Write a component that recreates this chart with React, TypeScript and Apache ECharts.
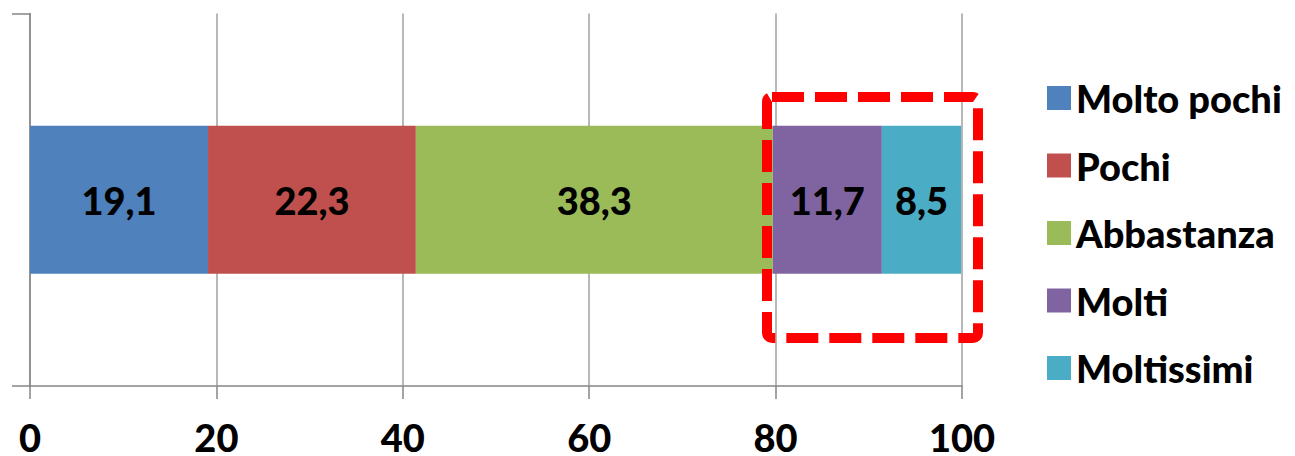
import React, { useEffect, useRef } from "react";
import * as echarts from "echarts";

const categories = [""];
const seriesNames = ["Molto pochi", "Pochi", "Abbastanza", "Molti", "Moltissimi"];
const values = [19.1, 22.3, 38.3, 11.7, 8.5];
const colors = ["#4F81BD", "#C0504D", "#9BBB59", "#8064A2", "#4BACC6"];
const xMin = 0;
const xMax = 100;
const xStep = 20;

const FONT = "Lato";
const FS = 38;
const FW = 900;

export default function App() {
  const ref = useRef<HTMLDivElement>(null);
  useEffect(() => {
    if (!ref.current) return;
    const chart = echarts.init(ref.current, undefined, { renderer: "svg" });
    chart.setOption({
      animation: false,
      backgroundColor: "#ffffff",
      grid: { left: 30, right: 333, top: 13.5, bottom: 69, containLabel: false },
      legend: {
        orient: "vertical",
        left: 1042,
        top: 74,
        icon: "rect",
        itemWidth: 24,
        itemHeight: 24,
        itemGap: 29.5,
        data: seriesNames,
        textStyle: {
          fontFamily: FONT,
          fontWeight: FW,
          fontSize: FS,
          color: "#000",
        },
      },
      xAxis: {
        type: "value",
        min: xMin,
        max: xMax,
        interval: xStep,
        axisLine: { show: true, lineStyle: { color: "#868686", width: 1.5 } },
        axisTick: { show: true, length: 13, lineStyle: { color: "#868686", width: 1.5 } },
        splitLine: { show: true, lineStyle: { color: "#A0A0A0", width: 1.5 } },
        axisLabel: {
          margin: 39,
          fontFamily: FONT,
          fontWeight: FW,
          fontSize: FS,
          lineHeight: 24,
          color: "#000",
        },
      },
      yAxis: {
        type: "category",
        data: categories,
        axisLine: { show: true, lineStyle: { color: "#868686", width: 1.5 } },
        axisTick: { show: true, length: 18, lineStyle: { color: "#868686", width: 1.5 } },
        axisLabel: { show: false },
        splitLine: { show: false },
      },
      series: seriesNames.map((name, i) => ({
        name,
        type: "bar",
        stack: "total",
        barWidth: 148,
        itemStyle: { color: colors[i] },
        label: {
          show: true,
          position: "inside",
          fontFamily: FONT,
          fontWeight: FW,
          fontSize: FS,
          color: "#000",
          formatter: (p: any) => String(p.value).replace(".", ","),
        },
        data: [values[i]],
      })),
      graphic: [
        {
          type: "rect",
          shape: { x: 767, y: 97, width: 211, height: 241, r: 5 },
          style: { fill: "none", stroke: "#FF0000", lineWidth: 10, lineDash: [32, 11] },
          z: 100,
        },
      ],
    });
    return () => chart.dispose();
  }, []);
  return (
    <div
      ref={ref}
      style={{ position: "fixed", left: 0, top: 0, width: 1295, height: 456, background: "#fff" }}
    />
  );
}
